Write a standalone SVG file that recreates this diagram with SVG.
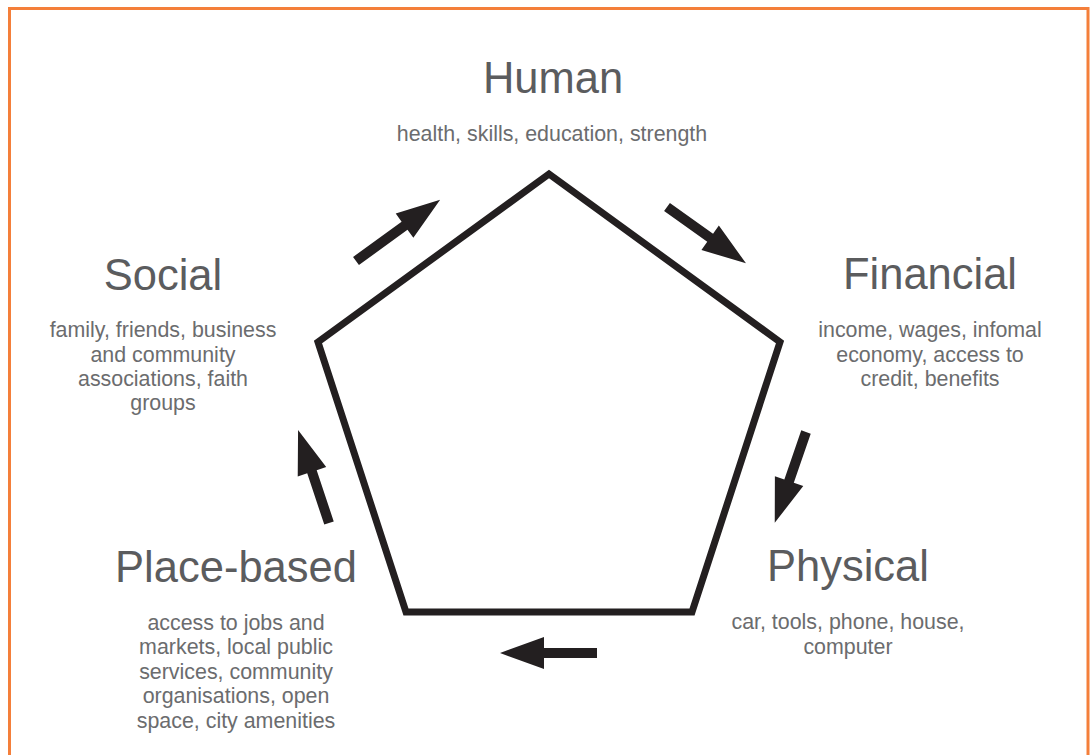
<svg xmlns="http://www.w3.org/2000/svg" xmlns:xlink="http://www.w3.org/1999/xlink" width="1092" height="755" viewBox="0 0 1092 755">
  <style>
    .frame { fill: none; stroke: #f47f3a; stroke-width: 3; }
    .penta { fill: none; stroke: #231f20; stroke-width: 7; stroke-linejoin: miter; stroke-miterlimit: 10; }
    .arrow { fill: #231f20; }
    .title { font-family: "Liberation Sans", Arial, Helvetica, sans-serif; font-size: 43.5px; fill: #5b5c5e; text-anchor: middle; }
    .body { font-family: "Liberation Sans", Arial, Helvetica, sans-serif; font-size: 21.4px; fill: #6b6c6e; text-anchor: middle; }
  </style>
  <rect width="1092" height="755" fill="#ffffff"/>
  <rect class="frame" x="9.5" y="8.5" width="1078.5" height="760"/>

  <g id="pentagon">
    <polygon class="penta" points="549,174 780,342 692,612 406,612 318,342"/>
  </g>

  <g id="connectors">
    <path class="arrow" transform="translate(356,261) rotate(-36)" d="M0,-5 H60 V-15 L104,0 L60,15 V5 H0 Z"/>
    <path class="arrow" transform="translate(667,207) rotate(35.5)" d="M0,-5 H53 V-15 L97,0 L53,15 V5 H0 Z"/>
    <path class="arrow" transform="translate(806,432) rotate(109)" d="M0,-5 H52 V-15 L96,0 L52,15 V5 H0 Z"/>
    <path class="arrow" transform="translate(597,653) rotate(180)" d="M0,-5 H53 V-16 L97,0 L53,16 V5 H0 Z"/>
    <path class="arrow" transform="translate(329,523) rotate(-108.4)" d="M0,-5 H54 V-15 L98,0 L54,15 V5 H0 Z"/>
  </g>

  <g id="node-human">
    <text class="title" x="553" y="93">Human</text>
    <text class="body" x="552" y="141">health, skills, education, strength</text>
  </g>

  <g id="node-financial">
    <text class="title" x="930" y="289">Financial</text>
    <text class="body" x="930" y="337">income, wages, infomal</text>
    <text class="body" x="930" y="362">economy, access to</text>
    <text class="body" x="930" y="386">credit, benefits</text>
  </g>

  <g id="node-physical">
    <text class="title" x="848" y="581">Physical</text>
    <text class="body" x="848" y="629">car, tools, phone, house,</text>
    <text class="body" x="848" y="654">computer</text>
  </g>

  <g id="node-place-based">
    <text class="title" x="236" y="582">Place-based</text>
    <text class="body" x="236" y="630">access to jobs and</text>
    <text class="body" x="236" y="654">markets, local public</text>
    <text class="body" x="236" y="679">services, community</text>
    <text class="body" x="236" y="703">organisations, open</text>
    <text class="body" x="236" y="728">space, city amenities</text>
  </g>

  <g id="node-social">
    <text class="title" x="163" y="290">Social</text>
    <text class="body" x="163" y="337">family, friends, business</text>
    <text class="body" x="163" y="362">and community</text>
    <text class="body" x="163" y="386">associations, faith</text>
    <text class="body" x="163" y="410">groups</text>
  </g>
</svg>
